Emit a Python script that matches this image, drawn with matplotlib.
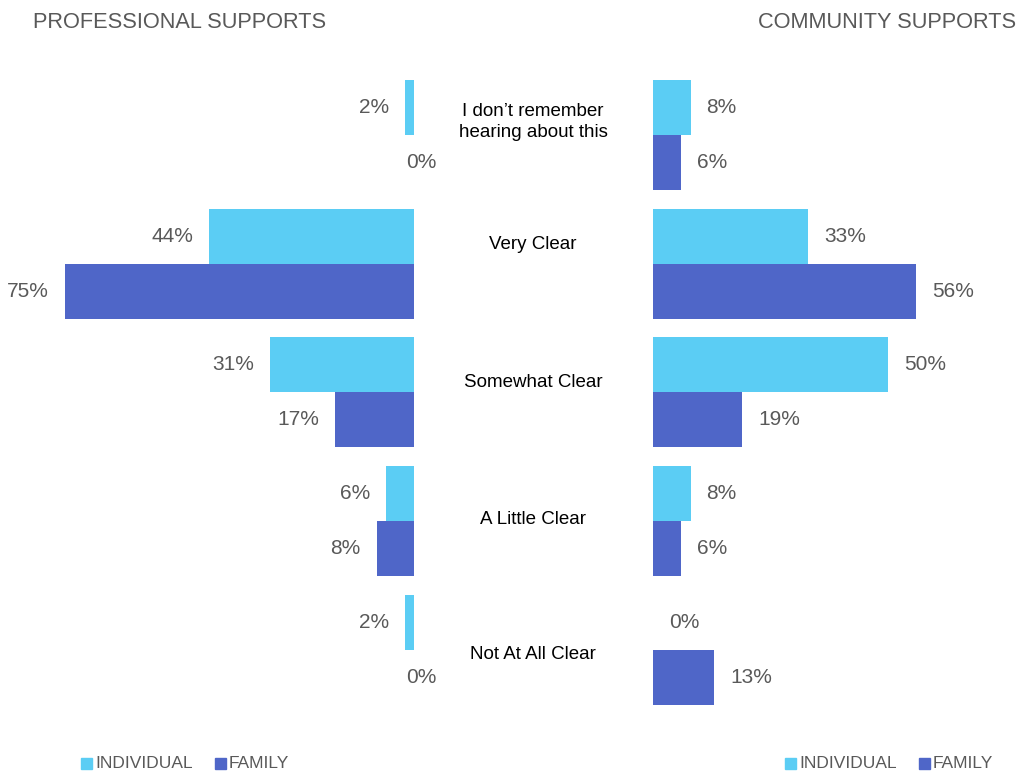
import matplotlib
matplotlib.use("Agg")
import matplotlib.pyplot as plt
from matplotlib import font_manager
from matplotlib.patches import Rectangle

categories = ["I don\u2019t remember\nhearing about this", "Very Clear", "Somewhat Clear",
              "A Little Clear", "Not At All Clear"]
prof_individual = [2, 44, 31, 6, 2]
prof_family = [0, 75, 17, 8, 0]
comm_individual = [8, 33, 50, 8, 0]
comm_family = [6, 56, 19, 6, 13]
series_names = ["INDIVIDUAL", "FAMILY"]
panel_titles = ["PROFESSIONAL SUPPORTS", "COMMUNITY SUPPORTS"]

C_IND = "#5BCDF4"
C_FAM = "#4F66C8"
GRAY = "#595959"

names = {f.name for f in font_manager.fontManager.ttflist}
fam = ["Liberation Sans Narrow", "Liberation Sans", "DejaVu Sans"]
fam = [f for f in fam if f in names] + ["DejaVu Sans"]
plt.rcParams["font.family"] = fam

W, H = 1020, 772
fig = plt.figure(figsize=(W / 100, H / 100), dpi=100)

top_px, grp_px = 70.6, 128.75
n = len(categories)
bottom = 1 - (top_px + n * grp_px) / H
height = n * grp_px / H
bh = 55 / grp_px

left_zero = 414
right_zero = 653

axL = fig.add_axes([0, bottom, left_zero / W, height])
axL.set_xlim(left_zero / 4.65, 0)
axR = fig.add_axes([right_zero / W, bottom, (W - right_zero) / W, height])
axR.set_xlim(0, (W - right_zero) / 4.70)

VAL_FS = 15
gap_pt = 16 * 0.72
centers = [i + 0.5 for i in range(n)]
for ax, ind, famv, side in [(axL, prof_individual, prof_family, -1),
                            (axR, comm_individual, comm_family, 1)]:
    ax.set_ylim(n, 0)
    ax.barh([c - bh / 2 for c in centers], ind, height=bh, color=C_IND)
    ax.barh([c + bh / 2 for c in centers], famv, height=bh, color=C_FAM)
    ax.axis("off")
    for c, vi, vf in zip(centers, ind, famv):
        for y, v in [(c - bh / 2, vi), (c + bh / 2, vf)]:
            if side < 0:
                if v == 0:
                    ax.annotate(f"{v}%", (0, y), xytext=(5, 0), textcoords="offset points",
                                ha="center", va="center", fontsize=VAL_FS, color=GRAY)
                else:
                    ax.annotate(f"{v}%", (v, y), xytext=(-gap_pt, 0), textcoords="offset points",
                                ha="right", va="center", fontsize=VAL_FS, color=GRAY)
            else:
                ax.annotate(f"{v}%", (v, y), xytext=(gap_pt, 0), textcoords="offset points",
                            ha="left", va="center", fontsize=VAL_FS, color=GRAY)

# category labels (placed between the panels)
label_offsets_px = [-13, -19, -10, -2, 5]
for c, lab, off in zip(centers, categories, label_offsets_px):
    ypx = top_px + c * grp_px + off
    fig.text(533 / W, 1 - ypx / H, lab, ha="center", va="center", fontsize=13.5,
             color="black", linespacing=1.35)

fig.text(33 / W, 1 - 22 / H, panel_titles[0], ha="left", va="center", fontsize=15.7, color=GRAY)
fig.text(1016 / W, 1 - 22 / H, panel_titles[1], ha="right", va="center", fontsize=15.7, color=GRAY)

# legends
def legend_at(x0):
    ys = 1 - 763 / H
    x = x0
    for name, col in zip(series_names, [C_IND, C_FAM]):
        fig.patches.append(Rectangle((x / W, ys - 5.5 / H), 11 / W, 11 / H, color=col,
                                     transform=fig.transFigure, figure=fig))
        t = fig.text((x + 14) / W, ys, name, ha="left", va="center", fontsize=12.5, color=GRAY)
        fig.canvas.draw()
        bb = t.get_window_extent()
        x = bb.x1 + 22

legend_at(81)
legend_at(785)

fig.savefig("out.png", dpi=100)
